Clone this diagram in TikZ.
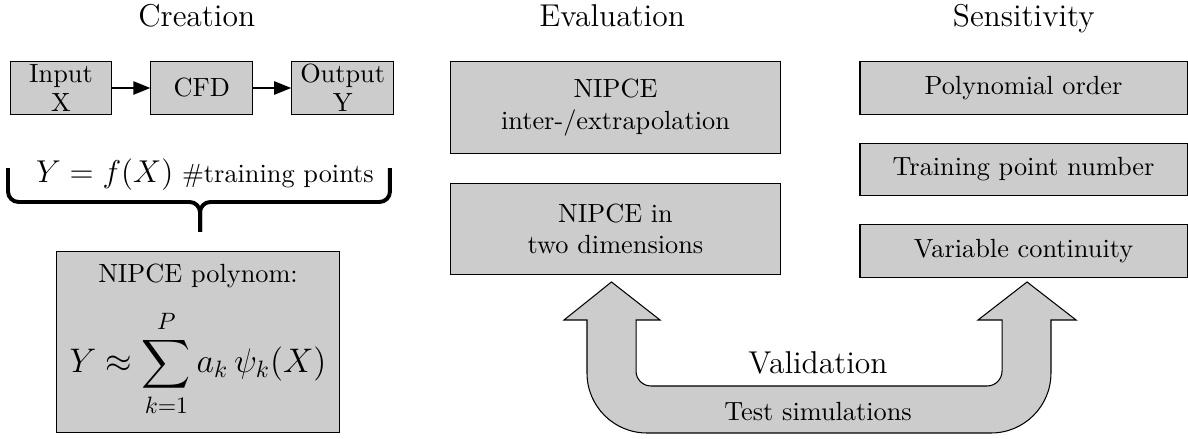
\documentclass[tikz,border=0pt]{standalone}
\usepackage{amsmath, amssymb, graphicx}
\usetikzlibrary{arrows.meta, positioning}
\tikzset{
  box/.style = {rectangle, draw=black, fill=black!20, align=center, inner sep=2pt},
  inbox/.style = {box, minimum width=1.36cm, minimum height=0.7cm, inner sep=1pt, font=\fontsize{10}{11}\selectfont},
  evbox/.style = {box, minimum width=4.42cm, minimum height=1.22cm},
  sebox/.style = {box, minimum width=4.37cm, minimum height=0.7cm},
  head/.style = {font=\large, anchor=base},
  arr/.style = {-{Triangle[length=6.5pt, width=5pt]}, thick},
  brc/.style = {line width=1.5pt, rounded corners=0.14cm}
}

\begin{document}
\begin{tikzpicture}
\useasboundingbox (0,0) rectangle (15.875,-5.853);

% Column titles
\node[head] (hcr) at (2.63,-0.354) {Creation};
\node[head] (hev) at (8.18,-0.354) {Evaluation};
\node[head] (hse) at (13.68,-0.354) {Sensitivity};

% Creation (→)
\node[inbox] (inp) at (0.815,-1.176) {Input\\X};
\node[inbox, right=0.508cm of inp] (cfd) {CFD};
\node[inbox, right=0.508cm of cfd] (outp) {Output\\Y};

\node[anchor=base] (fx) at (2.739,-2.445) {{\large $Y = f(X)$} \#training points};
\coordinate (brL) at (0.107,-2.245);
\coordinate (brR) at (5.211,-2.245);
\coordinate (brM) at (2.673,-2.699);
\coordinate (brT) at (2.673,-3.100);

\node[box, minimum width=3.77cm, minimum height=2.43cm] (poly) at (2.646,-4.570) {};
\node (polyt) at (2.646,-3.688) {NIPCE polynom:};
\node (polyf) at (2.646,-4.857) {\scalebox{0.9}{\Large $\displaystyle Y \approx \sum_{k=1}^{P} a_k\,\psi_k(X)$}};

% Evaluation
\node[evbox] (ev1) at (8.225,-1.437) {NIPCE\\inter-/extrapolation};
\node[evbox, below=0.388cm of ev1] (ev2) {NIPCE in\\two dimensions};

% Sensitivity
\node[sebox] (se1) at (13.677,-1.176) {Polynomial order};
\node[sebox, below=0.374cm of se1] (se2) {Training point number};
\node[sebox, below=0.374cm of se2] (se3) {Variable continuity};

% ----- ARROWS -----
\draw[arr] (inp) -- (cfd);
\draw[arr] (cfd) -- (outp);
% brace under the relation
\draw[brc] (brL) |- (brM) -- (brT);
\draw[brc] (brR) |- (brM) -- (brT);

% Validation loop
\draw[fill=black!20] (8.171,-3.768) -- (8.820,-4.276) -- (8.499,-4.276) -- (8.499,-4.958)
  arc[start angle=180, end angle=270, radius=0.2] -- (13.190,-5.158)
  arc[start angle=270, end angle=360, radius=0.2] -- (13.390,-4.276) -- (13.069,-4.276)
  -- (13.724,-3.768) -- (14.379,-4.276) -- (14.044,-4.276) -- (14.044,-4.986)
  arc[start angle=0, end angle=-90, radius=0.8] -- (8.644,-5.786)
  arc[start angle=270, end angle=180, radius=0.8] -- (7.844,-4.276) -- (7.537,-4.276) -- cycle;
\node[font=\large] (val) at (10.931,-4.851) {Validation};
\node (tst) at (10.931,-5.505) {Test simulations};

\end{tikzpicture}
\end{document}
